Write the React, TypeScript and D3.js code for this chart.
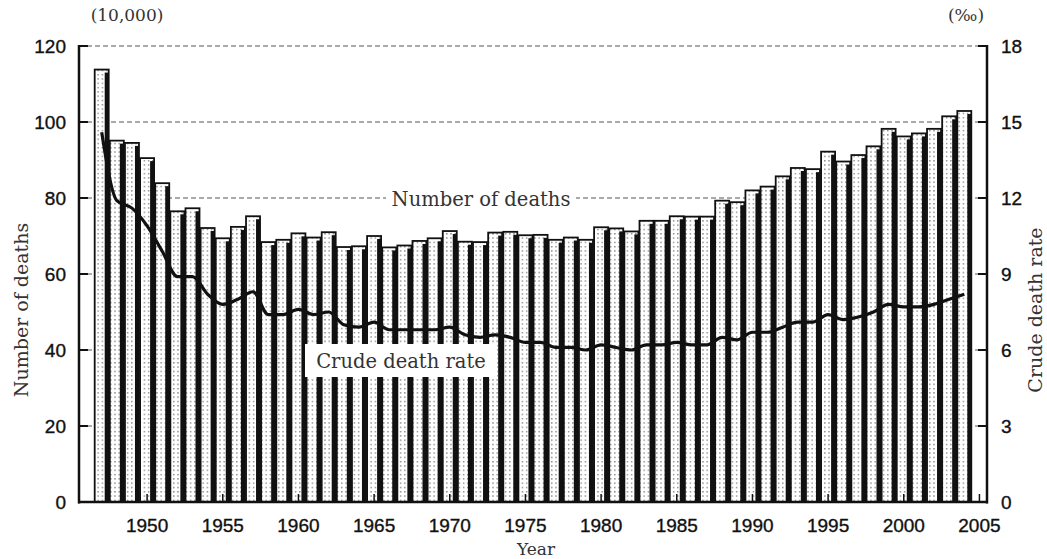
import React, { useEffect, useRef } from 'react';
import * as d3 from 'd3';

const years = d3.range(1947, 2005);
// deaths, in units of 10,000
const deaths = [
  113.8, 95.1, 94.5, 90.5, 83.9, 76.5, 77.3, 72.1, 69.4, 72.4,
  75.2, 68.4, 69.0, 70.7, 69.6, 71.0, 67.1, 67.3, 70.0, 67.0,
  67.5, 68.7, 69.4, 71.3, 68.5, 68.4, 70.9, 71.1, 70.2, 70.3,
  69.0, 69.6, 69.0, 72.3, 72.0, 71.2, 74.0, 74.0, 75.2, 75.1,
  75.1, 79.3, 78.9, 82.0, 83.0, 85.7, 87.9, 87.6, 92.2, 89.6,
  91.3, 93.6, 98.2, 96.2, 97.0, 98.2, 101.5, 102.9,
];
// crude death rate, per mille
const rates = [
  14.6, 11.9, 11.6, 10.9, 9.9, 8.9, 8.9, 8.2, 7.8, 8.0,
  8.3, 7.4, 7.4, 7.6, 7.4, 7.5, 7.0, 6.9, 7.1, 6.8,
  6.8, 6.8, 6.8, 6.9, 6.6, 6.5, 6.6, 6.5, 6.3, 6.3,
  6.1, 6.1, 6.0, 6.2, 6.1, 6.0, 6.2, 6.2, 6.3, 6.2,
  6.2, 6.5, 6.4, 6.7, 6.7, 6.9, 7.1, 7.1, 7.4, 7.2,
  7.3, 7.5, 7.8, 7.7, 7.7, 7.8, 8.0, 8.2,
];
const leftTicks = [0, 20, 40, 60, 80, 100, 120];
const rightTicks = [0, 3, 6, 9, 12, 15, 18];
const yearTicks = [1950, 1955, 1960, 1965, 1970, 1975, 1980, 1985, 1990, 1995, 2000, 2005];

const W = 1047;
const H = 559;

const App: React.FC = () => {
  const svgRef = useRef<SVGSVGElement>(null);

  useEffect(() => {
    if (!svgRef.current) return;
    const svg = d3.select(svgRef.current).attr('width', W).attr('height', H).html('');

    const x = d3.scaleLinear().domain([1945.5, 2005.5]).range([79, 987]);
    const yL = d3.scaleLinear().domain([0, 120]).range([502, 46]);
    const yR = d3.scaleLinear().domain([0, 18]).range([502, 46]);

    const serif = '"DejaVu Serif", "Liberation Serif", serif';
    const sans = '"Liberation Sans", Arial, sans-serif';

    // dotted fill
    const defs = svg.append('defs');
    const pat = defs.append('pattern')
      .attr('id', 'dots')
      .attr('patternUnits', 'userSpaceOnUse')
      .attr('width', 4.2)
      .attr('height', 4.3);
    pat.append('rect').attr('width', 4.2).attr('height', 4.3).attr('fill', '#fff');
    pat.append('rect').attr('x', 1).attr('y', 1).attr('width', 1.2).attr('height', 1.2).attr('fill', '#555');

    svg.append('rect').attr('width', W).attr('height', H).attr('fill', '#fff');

    // dashed gridlines
    svg.append('g')
      .selectAll('line')
      .data(leftTicks.filter((d) => d > 0))
      .join('line')
      .attr('x1', 79)
      .attr('x2', 987)
      .attr('y1', (d) => yL(d))
      .attr('y2', (d) => yL(d))
      .attr('stroke', '#555')
      .attr('stroke-width', 1)
      .attr('stroke-dasharray', '5,3');

    // bars
    const bars = svg.append('g');
    const half = 7;
    years.forEach((yr, i) => {
      const c = x(yr);
      const top = yL(deaths[i]);
      bars.append('rect')
        .attr('x', c - half)
        .attr('y', top)
        .attr('width', half * 2)
        .attr('height', yL(0) - top)
        .attr('fill', 'url(#dots)')
        .attr('stroke', '#111')
        .attr('stroke-width', 1.8);
      bars.append('rect')
        .attr('x', c + half - 4)
        .attr('y', top + 3)
        .attr('width', 4)
        .attr('height', yL(0) - top - 3)
        .attr('fill', '#111');
    });

    // label boxes
    const nd = svg.append('g');
    nd.append('rect').attr('x', 386).attr('y', 185).attr('width', 190).attr('height', 26).attr('fill', '#fff');
    nd.append('text')
      .attr('x', 481).attr('y', 206)
      .attr('text-anchor', 'middle')
      .attr('font-family', serif).attr('font-size', 19.5).attr('fill', '#333')
      .text('Number of deaths');

    const cr = svg.append('g');
    cr.append('rect').attr('x', 305).attr('y', 344).attr('width', 192).attr('height', 33).attr('fill', '#fff');
    cr.append('text')
      .attr('x', 401).attr('y', 368)
      .attr('text-anchor', 'middle')
      .attr('font-family', serif).attr('font-size', 19.5).attr('fill', '#333')
      .text('Crude death rate');

    // rate line
    const line = d3.line<number>()
      .x((_, i) => x(years[i]))
      .y((d) => yR(d))
      .curve(d3.curveMonotoneX);
    svg.append('path')
      .datum(rates)
      .attr('d', line)
      .attr('fill', 'none')
      .attr('stroke', '#111')
      .attr('stroke-width', 3.2)
      .attr('stroke-linejoin', 'round');

    // axes
    const ax = svg.append('g').attr('stroke', '#111').attr('stroke-width', 2.5);
    ax.append('line').attr('x1', 79).attr('x2', 79).attr('y1', 45).attr('y2', 503.5);
    ax.append('line').attr('x1', 987).attr('x2', 987).attr('y1', 45).attr('y2', 503.5);
    ax.append('line').attr('x1', 78).attr('x2', 988).attr('y1', 502).attr('y2', 502);

    ax.selectAll('.lt').data(leftTicks).join('line')
      .attr('x1', 79).attr('x2', 88)
      .attr('y1', (d) => yL(d)).attr('y2', (d) => yL(d))
      .attr('stroke-width', 2);
    ax.selectAll('.rt').data(rightTicks).join('line')
      .attr('x1', 978).attr('x2', 987)
      .attr('y1', (d) => yR(d)).attr('y2', (d) => yR(d))
      .attr('stroke-width', 2);
    ax.selectAll('.xt').data(yearTicks).join('line')
      .attr('x1', (d) => x(d)).attr('x2', (d) => x(d))
      .attr('y1', 502).attr('y2', 494)
      .attr('stroke-width', 1.5);

    // tick labels
    const tickStyle = (sel: any) => sel
      .attr('font-family', sans).attr('font-size', 19).attr('fill', '#111')
      .attr('stroke', '#111').attr('stroke-width', 0.35);
    svg.append('g').selectAll('text').data(leftTicks).join('text')
      .attr('x', 66).attr('y', (d) => yL(d) + 7)
      .attr('text-anchor', 'end')
      .call(tickStyle)
      .text((d) => d);
    svg.append('g').selectAll('text').data(rightTicks).join('text')
      .attr('x', 1001).attr('y', (d) => yR(d) + 7)
      .attr('text-anchor', 'start')
      .call(tickStyle)
      .text((d) => d);
    svg.append('g').selectAll('text').data(yearTicks).join('text')
      .attr('x', (d) => x(d)).attr('y', 532)
      .attr('text-anchor', 'middle')
      .call(tickStyle)
      .text((d) => d);

    // titles
    svg.append('text')
      .attr('x', 536).attr('y', 555)
      .attr('text-anchor', 'middle')
      .attr('font-family', serif).attr('font-size', 17).attr('fill', '#333')
      .text('Year');
    svg.append('text')
      .attr('transform', 'translate(28,310) rotate(-90)')
      .attr('text-anchor', 'middle')
      .attr('font-family', serif).attr('font-size', 19).attr('fill', '#333')
      .text('Number of deaths');
    svg.append('text')
      .attr('transform', 'translate(1042,310) rotate(-90)')
      .attr('text-anchor', 'middle')
      .attr('font-family', serif).attr('font-size', 19).attr('fill', '#333')
      .text('Crude death rate');
    svg.append('text')
      .attr('x', 127).attr('y', 21)
      .attr('text-anchor', 'middle')
      .attr('font-family', serif).attr('font-size', 17).attr('fill', '#333')
      .text('(10,000)');
    svg.append('text')
      .attr('x', 966).attr('y', 21)
      .attr('text-anchor', 'middle')
      .attr('font-family', serif).attr('font-size', 17).attr('fill', '#333')
      .text('(‰)');
  }, []);

  return (
    <div style={{ position: 'absolute', left: 0, top: 0 }}>
      <svg ref={svgRef} style={{ display: 'block' }}></svg>
    </div>
  );
};

export default App;
